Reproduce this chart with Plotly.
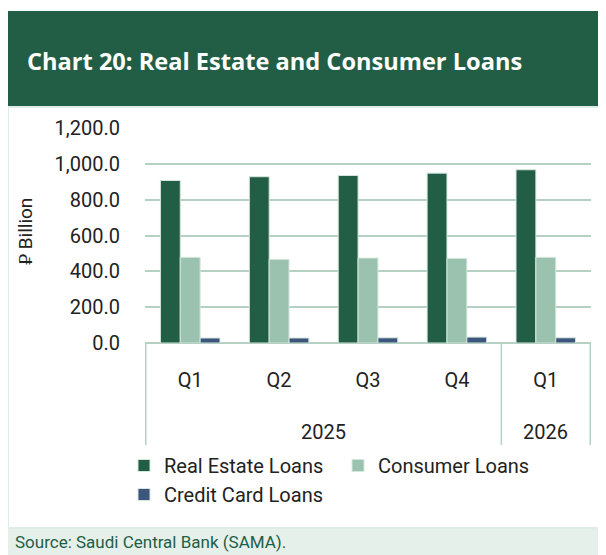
import plotly.graph_objects as go

years = ["2025", "2025", "2025", "2025", "2026"]
quarters = ["Q1", "Q2", "Q3", "Q4", "Q1"]
real_estate = [907, 928, 935, 948, 967]
consumer = [478, 467, 474, 472, 478]
credit_card = [28, 28, 29, 33, 29]

# page body adds an 8px margin, so the figure is sized to fit the window
OFF = 8
W, H = 606 - OFF, 555 - OFF
ML, MR, MT, MB = 137, 15, 120, 212
PW, PH = W - ML - MR, H - MT - MB


def px_x(x):
    # page pixel -> paper x
    return (x - OFF - ML) / PW


def px_y(y):
    # page pixel -> paper y
    return (H - MB - (y - OFF)) / PH


FONT = "Roboto"
DARK = "#225E45"
GRID = "#B5D1C4"
TEXT = "#222222"

# unique category per period, shown with the quarter only
periods = [q + " " + y for q, y in zip(quarters, years)]

fig = go.Figure()
fig.add_trace(go.Bar(x=periods, y=real_estate, name="Real Estate Loans",
                     marker=dict(color=DARK, line=dict(color="#D5E6DD", width=1))))
fig.add_trace(go.Bar(x=periods, y=consumer, name="Consumer Loans",
                     marker=dict(color="#9BC2AF", line=dict(color="#D5E6DD", width=1))))
fig.add_trace(go.Bar(x=periods, y=credit_card, name="Credit Card Loans",
                     marker=dict(color="#3D567D", line=dict(color="#D5E6DD", width=1))))

shapes = [
    # title banner
    dict(type="rect", xref="paper", yref="paper", x0=px_x(7), x1=px_x(606),
         y0=px_y(107), y1=px_y(11), fillcolor=DARK, line=dict(width=0), layer="below"),
    # panel border
    dict(type="rect", xref="paper", yref="paper", x0=px_x(8), x1=px_x(604),
         y0=px_y(528), y1=px_y(107), fillcolor="rgba(0,0,0,0)",
         line=dict(color="#DDECE4", width=2), layer="below"),
    # source band
    dict(type="rect", xref="paper", yref="paper", x0=px_x(7), x1=px_x(606),
         y0=px_y(556), y1=px_y(529), fillcolor="#E6F0EB", line=dict(width=0), layer="below"),
]

annotations = [
    dict(text="<b>Chart 20: Real Estate and Consumer Loans</b>", xref="paper", yref="paper",
         x=px_x(25), y=px_y(61), xanchor="left", yanchor="middle", showarrow=False,
         font=dict(family="Open Sans", size=23.6, color="white")),
    dict(text="\u20C1 Billion", xref="paper", yref="paper", x=px_x(25), y=px_y(232),
         xanchor="center", yanchor="middle", textangle=-90, showarrow=False,
         font=dict(family=FONT, size=19, color=TEXT)),
    dict(text="Source: Saudi Central Bank (SAMA).", xref="paper", yref="paper",
         x=px_x(13), y=px_y(542), xanchor="left", yanchor="middle", showarrow=False,
         font=dict(family=FONT, size=17, color=DARK)),
]

# year group labels and the dividers between year groups
groups = []
for i, y in enumerate(years):
    if groups and groups[-1][0] == y:
        groups[-1][2] = i
    else:
        groups.append([y, i, i])
for y, first, last in groups:
    annotations.append(dict(text=y, xref="x", yref="paper", x=(first + last) / 2,
                            y=px_y(432), xanchor="center", yanchor="middle",
                            showarrow=False, font=dict(family=FONT, size=20, color=TEXT)))
edges = [groups[0][1] - 0.5] + [last + 0.5 for _, _, last in groups]
for e in edges:
    shapes.append(dict(type="line", xref="x", yref="paper", x0=e, x1=e,
                       y0=0, y1=px_y(445), line=dict(color=GRID, width=1.5)))

fig.update_layout(
    width=W, height=H,
    margin=dict(l=ML, r=MR, t=MT, b=MB, autoexpand=False),
    paper_bgcolor="white", plot_bgcolor="white",
    barmode="group", bargap=0.33, bargroupgap=0,
    font=dict(family=FONT, size=20, color=TEXT),
    shapes=shapes, annotations=annotations,
    legend=dict(orientation="h", x=px_x(124), y=px_y(446), xanchor="left", yanchor="top",
                entrywidth=169, entrywidthmode="pixels", itemwidth=30,
                font=dict(family=FONT, size=20, color=TEXT), tracegroupgap=0),
    xaxis=dict(type="category", showgrid=False, showline=False,
               tickvals=periods, ticktext=quarters, ticks="",
               ticklabelstandoff=23,
               tickfont=dict(family=FONT, size=20, color=TEXT)),
    yaxis=dict(range=[0, 1200], dtick=200, tickformat=",.1f", showgrid=True,
               gridcolor=GRID, gridwidth=2, zeroline=True, zerolinecolor=GRID,
               zerolinewidth=2, ticks="", ticklabelstandoff=24,
               tickfont=dict(family=FONT, size=20, color=TEXT)),
)

fig.write_html("out.html")
